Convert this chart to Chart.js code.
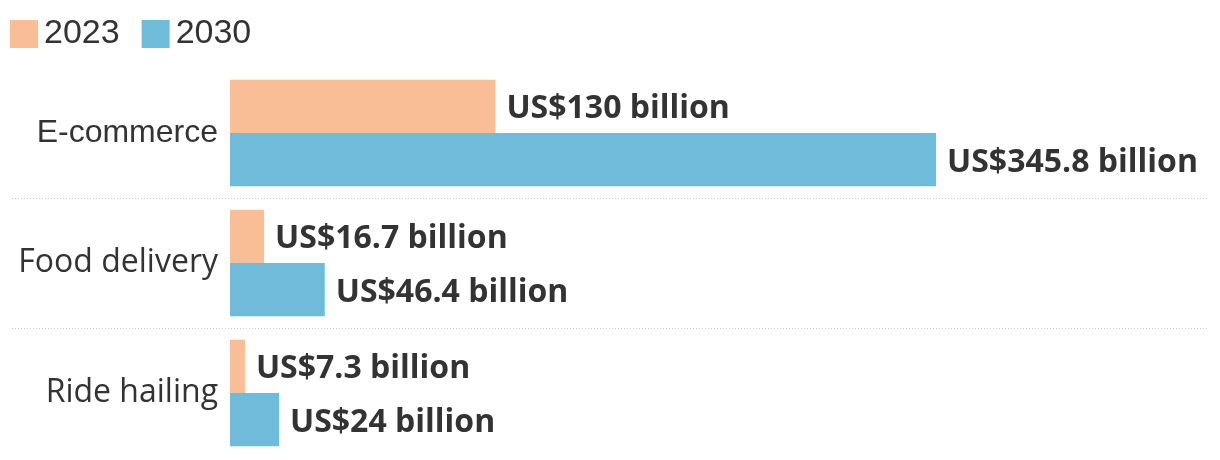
<!DOCTYPE html>
<html>
<head>
<meta charset="utf-8">
<script src="https://cdn.jsdelivr.net/npm/chart.js@4/dist/chart.umd.min.js"></script>
<style>
  html, body { margin: 0; padding: 0; background: #fff; }
  #wrap { width: 1220px; height: 460px; }
</style>
</head>
<body>
<div id="wrap"><canvas id="chart"></canvas></div>
<script>
// données
const categories = ['E-commerce', 'Food delivery', 'Ride hailing'];
const years = ['2023', '2030'];
const values2023 = [130, 16.7, 7.3];
const values2030 = [345.8, 46.4, 24];
const labels2023 = ['US$130 billion', 'US$16.7 billion', 'US$7.3 billion'];
const labels2030 = ['US$345.8 billion', 'US$46.4 billion', 'US$24 billion'];

const orange = '#FABE96';
const blue = '#6FBBDA';
const textColor = '#333333';
const sansArial = '"Liberation Sans", Arial, sans-serif';
const sansOpen = '"Open Sans", sans-serif';

// légende dessinée à la main (carrés + texte)
const customLegend = {
    id: 'customLegend',
    afterDraw(chart) {
        const ctx = chart.ctx;
        ctx.save();
        ctx.font = '34px ' + sansArial;
        ctx.textBaseline = 'middle';
        ctx.textAlign = 'left';
        let x = 10;
        chart.data.datasets.forEach((ds) => {
            ctx.fillStyle = ds.backgroundColor;
            ctx.fillRect(x, 20, 28, 28);
            ctx.fillStyle = textColor;
            ctx.fillText(ds.label, x + 34, 34);
            x += 34 + ctx.measureText(ds.label).width + 22;
        });
        ctx.restore();
    }
};

// étiquettes au bout des barres
const barLabels = {
    id: 'barLabels',
    afterDatasetsDraw(chart) {
        const ctx = chart.ctx;
        const texts = [labels2023, labels2030];
        ctx.save();
        ctx.font = 'bold 32px ' + sansOpen;
        ctx.fillStyle = textColor;
        ctx.textAlign = 'left';
        ctx.textBaseline = 'middle';
        chart.data.datasets.forEach((ds, di) => {
            chart.getDatasetMeta(di).data.forEach((bar, i) => {
                ctx.fillText(texts[di][i], bar.x + 11, bar.y + 3);
            });
        });
        ctx.restore();
    }
};

// lignes pointillées entre les catégories
const separators = {
    id: 'separators',
    beforeDatasetsDraw(chart) {
        const ctx = chart.ctx;
        const y = chart.scales.y;
        ctx.save();
        ctx.strokeStyle = '#cccccc';
        ctx.lineWidth = 1;
        ctx.setLineDash([1, 2]);
        for (let i = 0; i < categories.length - 1; i++) {
            const py = Math.round((y.getPixelForValue(i) + y.getPixelForValue(i + 1)) / 2) + 0.5;
            ctx.beginPath();
            ctx.moveTo(12, py);
            ctx.lineTo(chart.chartArea.right, py);
            ctx.stroke();
        }
        ctx.restore();
    }
};

new Chart(document.getElementById('chart'), {
    type: 'bar',
    data: {
        labels: categories,
        datasets: [
            { label: years[0], data: values2023, backgroundColor: orange },
            { label: years[1], data: values2030, backgroundColor: blue }
        ]
    },
    options: {
        indexAxis: 'y',
        responsive: true,
        maintainAspectRatio: false,
        animation: false,
        layout: { padding: { top: 68, right: 12, bottom: 2, left: 0 } },
        datasets: { bar: { categoryPercentage: 0.82, barPercentage: 1.0 } },
        scales: {
            x: {
                display: false,
                min: 0,
                max: 479
            },
            y: {
                grid: { display: false },
                border: { display: false },
                ticks: {
                    color: textColor,
                    // la première étiquette est dans une autre police dans l'original
                    font: (c) => ({ family: c.index === 0 ? sansArial : sansOpen, size: 32 }),
                    padding: 4
                },
                afterFit(scale) {
                    scale.width = 230;
                    scale.paddingTop = 0;
                    scale.paddingBottom = 0;
                }
            }
        },
        plugins: {
            legend: { display: false },
            tooltip: { enabled: false }
        }
    },
    plugins: [separators, barLabels, customLegend]
});
</script>
</body>
</html>
